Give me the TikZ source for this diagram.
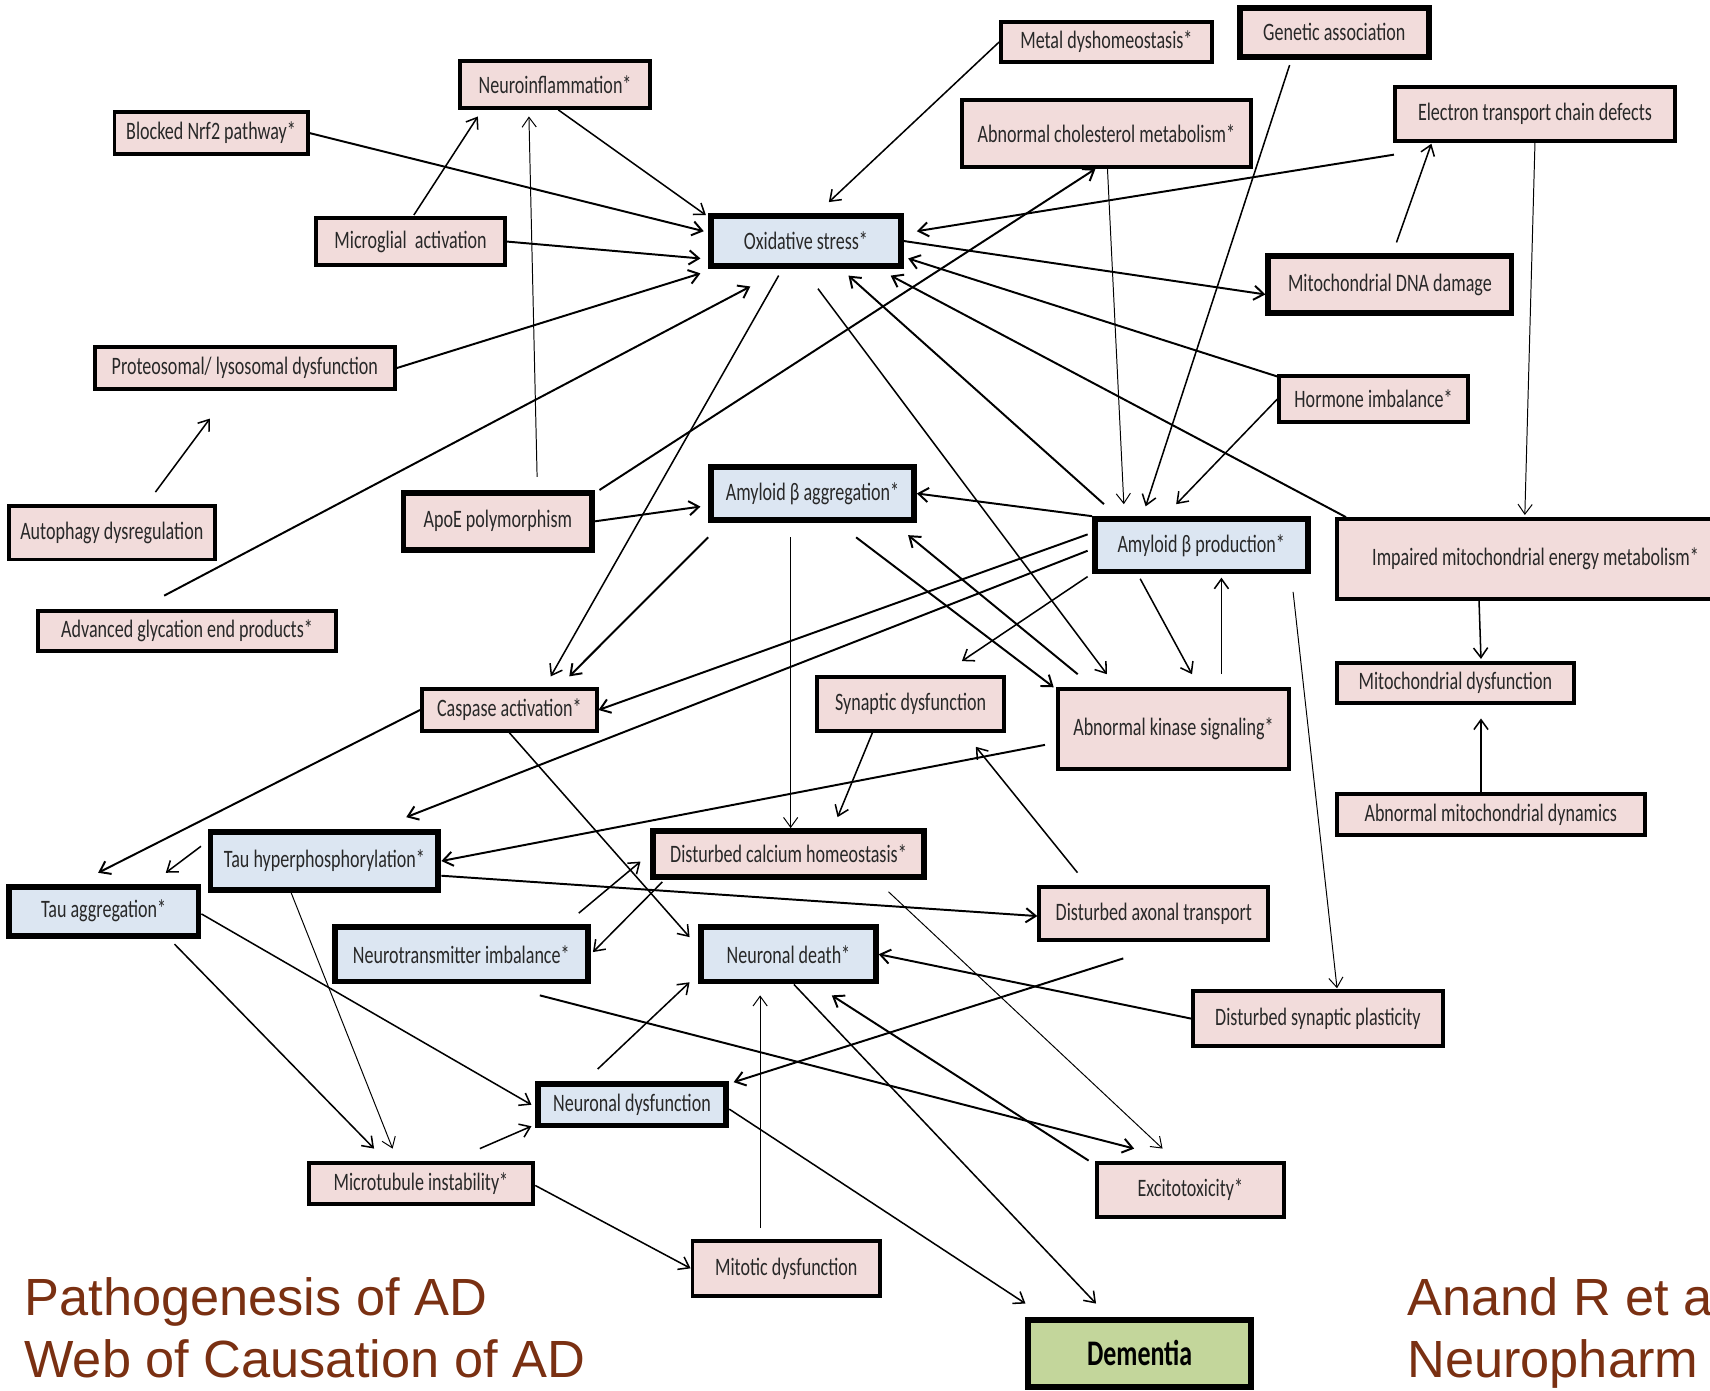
\documentclass[tikz,border=0pt]{standalone}
\usepackage{fontspec}
\usetikzlibrary{arrows.meta,calc}
\newfontfamily\boxfont[FakeStretch=0.72]{Carlito}
\newfontfamily\captfont{Liberation Sans}
\definecolor{causefill}{RGB}{242,220,219}
\definecolor{corefill}{RGB}{220,230,242}
\definecolor{endfill}{RGB}{195,214,155}
\definecolor{captbrown}{RGB}{122,48,18}
\definecolor{boxtext}{RGB}{40,40,40}

\tikzset{
  cause/.style={draw, line width=1.8pt, fill=causefill, inner sep=1pt, text=boxtext, font=\boxfont\fontsize{11.5}{13}\selectfont},
  core/.style={cause, fill=corefill, line width=2.7pt},
  heavy/.style={cause, line width=2.7pt},
  sz/.style 2 args={minimum width=#1*0.5pt, minimum height=#2*0.5pt},
  link/.style={-{Straight Barb[length=4.5pt,width=6.5pt]}, line width=0.9pt},
  midlink/.style={link, line width=0.7pt},
  thinlink/.style={link, line width=0.45pt},
  capt/.style={anchor=base west, inner sep=0pt, text=captbrown, font=\captfont\fontsize{24}{28}\selectfont}
}

\begin{document}
\begin{tikzpicture}[x=0.5pt,y=-0.5pt]
\useasboundingbox (0,0) rectangle (1568,1275);
\clip (0,0) rectangle (1568,1275);

% Boxes, top part
\node[cause, sz={193}{37}] (metal) at (1014.5,38.5) {Metal dyshomeostasis*};
\node[heavy, sz={173}{45}] (genetic) at (1223.5,29.5) {Genetic association};
\node[cause, sz={174}{43}] (neuroinf) at (509,77.5) {Neuroinflammation*};
\node[cause, sz={177}{38}] (nrf2) at (193.5,122) {Blocked Nrf2 pathway*};
\node[cause, sz={265}{61}] (chol) at (1014.5,122.5) {Abnormal cholesterol metabolism*};
\node[cause, sz={257}{49}] (etc) at (1407.5,104.5) {Electron transport chain defects};
\node[cause, sz={173}{43}] (microglia) at (376.5,221.5) {Microglial\ \ activation};
\node[core, sz={174}{46}] (oxid) at (739,221) {Oxidative stress*};
\node[heavy, sz={223}{52}] (mtdna) at (1274.5,261) {Mitochondrial DNA damage};
\node[cause, sz={275}{39}] (proteo) at (224.5,337.5) {Proteosomal/ lysosomal dysfunction};
\node[cause, sz={173}{42}] (hormone) at (1259.5,366) {Hormone imbalance*};
\node[cause, sz={189}{49}] (autoph) at (102.5,488.5) {Autophagy dysregulation};
\node[heavy, sz={173}{52}] (apoe) at (456.5,478) {ApoE polymorphism};
\node[core, sz={186}{49}] (abagg) at (745,452.5) {Amyloid β aggregation*};
\node[core, sz={195}{48}] (abprod) at (1101.5,500) {Amyloid β production*};
\node[cause, sz={364}{73}] (impaired) at (1408,512.5) {Impaired mitochondrial energy metabolism*\hspace{19pt}};
\node[cause, sz={273}{37}] (age) at (171.5,578.5) {Advanced glycation end products*};

% Boxes, middle part
\node[cause, sz={160}{38}] (caspase) at (467,651) {Caspase activation*};
\node[cause, sz={172}{49}] (synaptic) at (835,645.5) {Synaptic dysfunction};
\node[cause, sz={212}{73}] (kinase) at (1076,668.5) {Abnormal kinase signaling*};
\node[cause, sz={217}{37}] (mitodys) at (1334.5,626.5) {Mitochondrial dysfunction};
\node[cause, sz={282}{38}] (dynamics) at (1367,747) {Abnormal mitochondrial dynamics};
\node[core, sz={209}{53}] (tauhyp) at (297.5,789.5) {Tau hyperphosphorylation*};
\node[heavy, sz={248}{42}] (calcium) at (723,783) {Disturbed calcium homeostasis*};
\node[core, sz={174}{45}] (tauagg) at (95,835.5) {Tau aggregation*};
\node[cause, sz={210}{49}] (axonal) at (1058,837.5) {Disturbed axonal transport};

% Boxes, bottom part
\node[core, sz={232}{50}] (neurotr) at (423,875) {Neurotransmitter imbalance*};
\node[core, sz={160}{50}] (death) at (723,875) {Neuronal death*};
\node[cause, sz={229}{50}] (plast) at (1208.5,934) {Disturbed synaptic plasticity};
\node[core, sz={173}{38}] (neurdys) at (579.5,1013) {Neuronal dysfunction};
\node[cause, sz={206}{38}] (microt) at (386,1085) {Microtubule instability*};
\node[cause, sz={171}{50}] (excito) at (1091.5,1091) {Excitotoxicity*};
\node[cause, sz={172}{50}] (mitotic) at (721,1163) {Mitotic dysfunction};
\node[heavy, sz={204}{62}, fill=endfill, text=black, font=\boxfont\fontsize{16.5}{18}\selectfont\bfseries] (dementia) at (1045,1241) {Dementia};

% Arrows into and out of oxidative stress
\draw[link] (nrf2.east) -- ($(oxid.west)+(-4,-9)$);
\draw[midlink] ($(neuroinf.south)+(3,0)$) -- ($(oxid.north west)+(-2,2)$);
\draw[midlink] ($(microglia.north)+(3,-1)$) -- ($(neuroinf.south west)+(18,6)$);
\draw[link] (microglia.east) -- ($(oxid.west)+(-7,16)$);
\draw[link] (proteo.east) -- ($(oxid.south west)+(-7,4)$);
\draw[thinlink] ($(apoe.north)+(36,-12)$) -- ($(neuroinf.south)+(-24,6)$);
\draw[midlink] ($(autoph.north)+(40,-11)$) -- ($(proteo.south)+(-32,25)$);
\draw[link] ($(age.north)+(-21,-12)$) -- ($(oxid.south)+(-51,16)$);
\draw[link] ($(apoe.north east)+(4,0)$) -- ($(chol.south)+(-10,0)$);
\draw[midlink] (metal.west) -- ($(oxid.north)+(21,-10)$);
\draw[midlink] ($(genetic.south)+(-41,5)$) -- ($(abprod.north)+(-51,-9)$);
\draw[thinlink] ($(chol.south)+(1,0)$) -- ($(abprod.north)+(-71,-11)$);
\draw[link] ($(etc.south west)+(1,11)$) -- ($(oxid.east)+(12,-9)$);
\draw[midlink] ($(mtdna.north)+(6,-10)$) -- ($(etc.south)+(-95,1)$);
\draw[link] (oxid.east) -- ($(mtdna.west)+(0,9)$);
\draw[link] ($(hormone.north west)+(0,2)$) -- ($(oxid.east)+(4,16)$);
\draw[midlink] (hormone.west) -- ($(abprod.north)+(-23,-11)$);
\draw[link] ($(impaired.north west)+(10,0)$) -- ($(oxid.south east)+(-12,6)$);
\draw[thinlink] (etc.south) -- ($(impaired.north west)+(174,-2)$);
\draw[link] ($(abprod.north west)+(11,-11)$) -- ($(oxid.south)+(39,6)$);
\draw[midlink] ($(oxid.south)+(-25,6)$) -- ($(caspase.north)+(38,-10)$);
\draw[midlink] ($(oxid.south)+(11,18)$) -- ($(kinase.north)+(-61,-12)$);

% Amyloid beta
\draw[link] (abprod.north west) -- (abagg.east);
\draw[link] (apoe.east) -- ($(abagg.west)+(-7,12)$);
\draw[link] ($(abagg.south west)+(0,13)$) -- ($(caspase.north)+(55,-10)$);
\draw[thinlink] ($(abagg.south)+(-20,13)$) -- ($(calcium.north)+(2,0)$);
\draw[link] ($(abagg.south)+(40,13)$) -- ($(kinase.north west)+(-2,0)$);
\draw[link] ($(kinase.north west)+(20,-12)$) -- ($(abagg.south east)+(-8,11)$);
\draw[link] ($(abprod.west)+(-4,-10)$) -- (caspase.east);
\draw[link] ($(abprod.west)+(-4,5)$) -- ($(tauhyp.north)+(75,-11)$);
\draw[midlink] ($(abprod.south west)+(-4,2)$) -- ($(synaptic.north)+(47,-13)$);
\draw[midlink] ($(abprod.south)+(-56,4)$) -- ($(kinase.north)+(17,-12)$);
\draw[midlink] ($(kinase.north)+(44,-12)$) -- ($(abprod.south)+(18.5,3)$);
\draw[thinlink] ($(abprod.south east)+(-16,16)$) -- ($(plast.north)+(17.5,-1)$);

% Mitochondria
\draw[midlink] ($(impaired.south west)+(132,0)$) -- ($(mitodys.north)+(23.5,-2)$);
\draw[midlink] ($(dynamics.north)+(-9,0)$) -- ($(mitodys.south)+(23.5,12)$);

% Tau, calcium and transport
\draw[link] (caspase.west) -- ($(tauagg.north)+(-5,-10)$);
\draw[midlink] (caspase.south) -- ($(death.north west)+(-8,12)$);
\draw[midlink] ($(synaptic.south)+(-35,0)$) -- ($(calcium.north)+(45,-10)$);
\draw[link] ($(kinase.west)+(-10,14.5)$) -- (tauhyp.east);
\draw[midlink] ($(axonal.north)+(-70,-11)$) -- ($(synaptic.south east)+(-28,13)$);
\draw[midlink] ($(tauhyp.west)+(-6,-13.5)$) -- ($(tauagg.north)+(57,-10)$);
\draw[link] ($(tauhyp.east)+(0,13.5)$) -- ($(axonal.west)+(0,2.5)$);
\draw[thinlink] ($(tauhyp.south)+(-30.5,0)$) -- ($(microt.north)+(-26,-11)$);
\draw[midlink] ($(tauagg.east)+(0,2.5)$) -- ($(neurdys.west)+(-3,0)$);
\draw[midlink] ($(tauagg.south)+(65,5)$) -- ($(microt.north)+(-43,-11)$);
\draw[midlink] ($(neurotr.north east)+(-11,-10)$) -- ($(calcium.west)+(-9,7)$);
\draw[midlink] ($(calcium.south west)+(11,2)$) -- ($(neurotr.east)+(2,-2)$);
\draw[thinlink] ($(calcium.south east)+(-35,11)$) -- ($(excito.north)+(-25.5,-11)$);
\draw[link] ($(neurotr.south)+(72,10)$) -- ($(excito.north)+(-51.5,-11)$);

% Neuronal death and dementia
\draw[link] ($(excito.north west)+(-6,0)$) -- ($(death.south east)+(-43,10)$);
\draw[link] (plast.west) -- (death.east);
\draw[link] ($(axonal.south)+(-28,15)$) -- ($(neurdys.north east)+(4,1)$);
\draw[midlink] ($(neurdys.north)+(-31.5,-11)$) -- ($(death.south west)+(-8,-2)$);
\draw[thinlink] ($(mitotic.north)+(-24,-10)$) -- ($(death.south)+(-26,10)$);
\draw[midlink] ($(microt.north)+(54,-11)$) -- ($(neurdys.south west)+(-3,-2)$);
\draw[midlink] ($(microt.east)+(0,2)$) -- (mitotic.west);
\draw[midlink] ($(neurdys.east)+(0,4)$) -- ($(dementia.north west)+(0,-12)$);
\draw[midlink] ($(death.south)+(5,0)$) -- ($(dementia.north)+(-40,-12)$);

% Text Node
\node[capt] (title) at (22,1206) {Pathogenesis of AD};
\node[capt] (subtitle) at (22,1263) {Web of Causation of AD};
\node[capt] (source) at (1290,1206) {Anand R et a};
\node[capt] (journal) at (1290,1263) {Neuropharm};

\end{tikzpicture}
\end{document}
